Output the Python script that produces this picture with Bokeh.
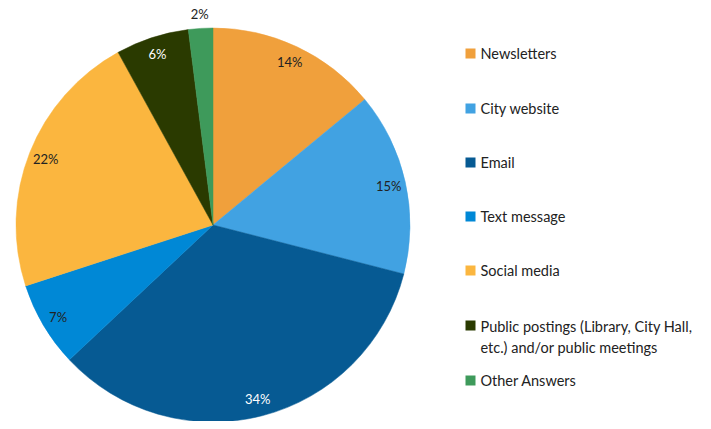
import numpy as np
from bokeh.plotting import figure
from bokeh.models import ColumnDataSource, Range1d
from bokeh.core.properties import value
from bokeh.embed import file_html
from bokeh.resources import INLINE

categories = ["Newsletters", "City website", "Email", "Text message", "Social media",
              "Public postings (Library, City Hall,\netc.) and/or public meetings", "Other Answers"]
shares = [14, 15, 34, 7, 22, 6, 2]
colors = ["#F0A03C", "#41A2E2", "#065A93", "#0088D6", "#FBB63F", "#2A3A00", "#3E9A5B"]
label_colors = ["#222222", "#222222", "#FFFFFF", "#222222", "#222222", "#FFFFFF", "#222222"]

W, H = 695, 421
FONT = "Lato"
p = figure(width=W, height=H, output_backend="svg", toolbar_location=None,
           x_range=Range1d(0, W), y_range=Range1d(0, H), min_border=0)
p.axis.visible = False
p.grid.visible = False
p.outline_line_color = None

# pie geometry in picture pixels (top-left origin)
cx_px, cy_px, R = 212.5, 224.5, 197.0
cx, cy = cx_px, H - cy_px
vals = np.array(shares, dtype=float)
frac = vals / vals.sum()
cum = np.concatenate([[0], np.cumsum(frac)])
start = np.pi / 2 - cum[:-1] * 2 * np.pi
end = np.pi / 2 - cum[1:] * 2 * np.pi
mid = (start + end) / 2

src = ColumnDataSource(dict(start=start, end=end, color=colors))
p.wedge(x=cx, y=cy, radius=R, start_angle="start", end_angle="end", direction="clock",
        fill_color="color", line_color="color", line_width=0.5, source=src)

# percentage labels
lr = np.where(frac < 0.03, 211.0, 180.0)
lx = cx + lr * np.cos(mid)
ly = cy + lr * np.sin(mid)
lsrc = ColumnDataSource(dict(x=lx, y=ly, t=[f"{s}%" for s in shares], c=label_colors))
p.text(x="x", y="y", text="t", text_color="c", source=lsrc, text_align="center",
       text_baseline="middle", text_font=value(FONT), text_font_size="13px")

# legend (picture pixel rows)
leg_rows = [53, 108, 162, 216, 270, 336.5, 380]
ly2 = [H - y for y in leg_rows]
p.rect(x=[470] * len(ly2), y=[H - y for y in [53, 108, 162, 216, 270, 325, 380]],
       width=10, height=10, fill_color=colors, line_color=None)
p.text(x=[480] * len(ly2), y=ly2, text=categories, text_align="left",
       text_baseline="middle", text_font=value(FONT), text_font_size="14.5px",
       text_color="#222222", text_line_height=1.27)

open("out.html", "w").write(file_html(p, INLINE))
